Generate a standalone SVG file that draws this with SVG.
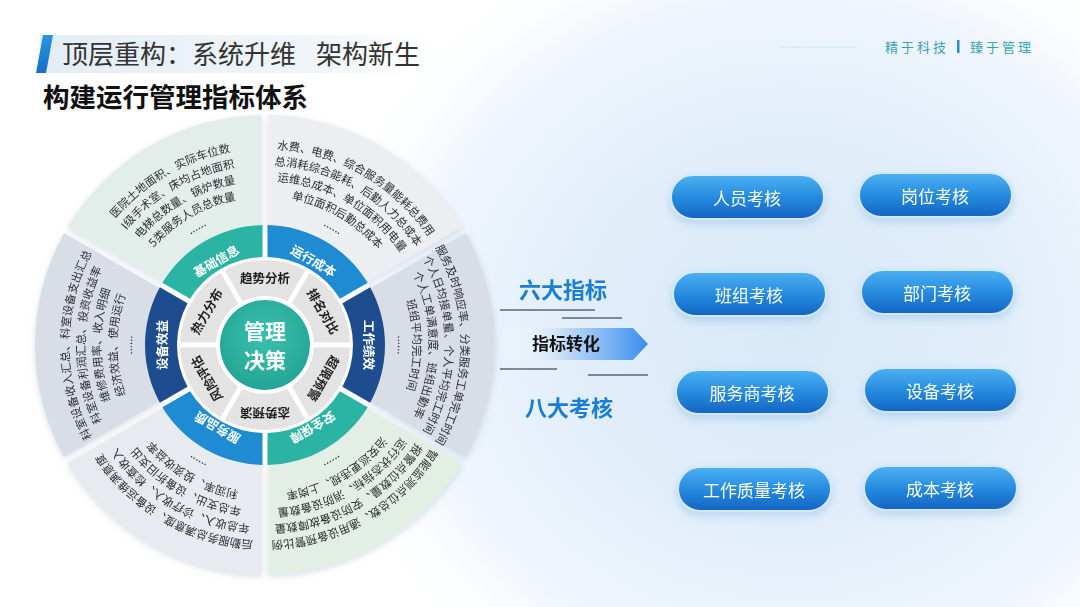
<svg xmlns="http://www.w3.org/2000/svg" width="1080" height="607" viewBox="0 0 1080 607">
<style>
.f{font-family:"Noto Sans CJK SC","Noto Sans",sans-serif}
.st{font-family:"Noto Sans CJK SC",sans-serif;font-size:11.3px;fill:#2a2d31;text-anchor:middle}
.bl{font-family:"Noto Sans CJK SC",sans-serif;font-size:12.5px;font-weight:bold;fill:#ffffff;text-anchor:middle;dominant-baseline:central}
.rl{font-family:"Noto Sans CJK SC",sans-serif;font-size:12.5px;font-weight:bold;fill:#1e1e1e;text-anchor:middle;dominant-baseline:central}
.pt{font-family:"Noto Sans CJK SC",sans-serif;font-size:17px;fill:#ffffff;text-anchor:middle;dominant-baseline:central}
.ln{stroke:#5b6577;stroke-width:1.5;fill:none}
</style>
<defs>
<radialGradient id="bgR" gradientUnits="userSpaceOnUse" cx="790" cy="330" r="500" gradientTransform="translate(790 330) scale(1 0.9) translate(-790 -330)">
<stop offset="0" stop-color="#d8e9f8"/>
<stop offset="0.45" stop-color="#e2eefa"/>
<stop offset="0.75" stop-color="#f0f6fc"/>
<stop offset="1" stop-color="#ffffff" stop-opacity="0"/>
</radialGradient>
<linearGradient id="titleBg" x1="0" y1="0" x2="1" y2="0">
<stop offset="0" stop-color="#e3edf6"/>
<stop offset="0.7" stop-color="#f1f6fa"/>
<stop offset="1" stop-color="#ffffff" stop-opacity="0"/>
</linearGradient>
<linearGradient id="barG" x1="0" y1="0" x2="0" y2="1">
<stop offset="0" stop-color="#2a95e0"/>
<stop offset="1" stop-color="#1470c4"/>
</linearGradient>
<linearGradient id="arrowG" x1="0" y1="0" x2="1" y2="0">
<stop offset="0" stop-color="#ffffff" stop-opacity="0"/>
<stop offset="0.35" stop-color="#d7e8f8"/>
<stop offset="1" stop-color="#3b8ef0"/>
</linearGradient>
<linearGradient id="pillG" x1="0" y1="0" x2="0" y2="1">
<stop offset="0" stop-color="#4cb1f3"/>
<stop offset="0.55" stop-color="#2488dd"/>
<stop offset="1" stop-color="#1463c2"/>
</linearGradient>
<radialGradient id="tealG" cx="0.5" cy="0.4" r="0.6">
<stop offset="0" stop-color="#3cc0ae"/>
<stop offset="1" stop-color="#22a596"/>
</radialGradient>
<filter id="sh" x="-20%" y="-20%" width="140%" height="140%">
<feDropShadow dx="0" dy="2" stdDeviation="3" flood-color="#8ea6c0" flood-opacity="0.35"/>
</filter>
<filter id="psh" x="-20%" y="-30%" width="140%" height="170%">
<feDropShadow dx="0" dy="4" stdDeviation="4" flood-color="#6ea5dc" flood-opacity="0.35"/>
</filter>
<path id="sec" d="M153.02,144.10 A230,230 0 0 1 376.98,144.10 L320.94,241.10 A118,118 0 0 0 209.06,241.10 Z"/>
<path id="band" d="M207.17,239.86 A120,120 0 0 1 322.83,239.86 L306.81,267.57 A88,88 0 0 0 223.19,267.57 Z"/>
<path id="ring" d="M224.68,270.17 A85,85 0 0 1 305.32,270.17 L287.31,301.37 A49,49 0 0 0 242.69,301.37 Z"/>
<path id="a196" d="M139.01,194.86 A196,196 0 0 1 390.99,194.86"/>
<path id="a180" d="M149.30,207.12 A180,180 0 0 1 380.70,207.12"/>
<path id="a164" d="M159.58,219.37 A164,164 0 0 1 370.42,219.37"/>
<path id="a148" d="M169.87,231.63 A148,148 0 0 1 360.13,231.63"/>
<path id="a133" d="M179.51,243.12 A133,133 0 0 1 350.49,243.12"/>
</defs>

<rect width="1080" height="607" fill="#ffffff"/>
<rect width="1080" height="607" fill="url(#bgR)"/>

<g id="header">
<rect x="40" y="35" width="420" height="38" fill="url(#titleBg)"/>
<polygon points="43,35 53,35 46,73 36,73" fill="url(#barG)"/>
<text class="f" x="62" y="64" font-size="26" fill="#333333">顶层重构：系统升维</text>
<text class="f" x="316" y="64" font-size="26" fill="#333333">架构新生</text>
<text class="f" x="43" y="107" font-size="26.5" font-weight="bold" fill="#111111">构建运行管理指标体系</text>
<line x1="780" y1="47" x2="856" y2="47" stroke="#cfe3f1" stroke-width="1"/>
<text class="f" x="885" y="52" font-size="13" letter-spacing="3" fill="#3aa3b3">精于科技</text>
<rect x="957" y="40" width="2.5" height="13" fill="#2a8fd8"/>
<text class="f" x="970" y="52" font-size="13" letter-spacing="3" fill="#3aa3b3">臻于管理</text>
</g>

<g id="wheel">
<g id="sectors" filter="url(#sh)">
<use href="#sec" fill="#e3eeea" transform="rotate(-30 265 345)"/>
<use href="#sec" fill="#eceef1" transform="rotate(30 265 345)"/>
<use href="#sec" fill="#d9dee6" transform="rotate(90 265 345)"/>
<use href="#sec" fill="#e3eee5" transform="rotate(150 265 345)"/>
<use href="#sec" fill="#e7eaee" transform="rotate(210 265 345)"/>
<use href="#sec" fill="#d9dee6" transform="rotate(270 265 345)"/>
</g>
<circle cx="265" cy="345" r="87" fill="#ffffff"/>
<g id="bands">
<use href="#band" fill="#2bb3a3" transform="rotate(-30 265 345)"/>
<use href="#band" fill="#1e8bd2" transform="rotate(30 265 345)"/>
<use href="#band" fill="#1d4d8e" transform="rotate(90 265 345)"/>
<use href="#band" fill="#2bb3a3" transform="rotate(150 265 345)"/>
<use href="#band" fill="#1e8bd2" transform="rotate(210 265 345)"/>
<use href="#band" fill="#1d4d8e" transform="rotate(270 265 345)"/>
</g>
<g id="ringSegs" fill="#e3e3e3">
<use href="#ring"/>
<use href="#ring" transform="rotate(60 265 345)"/>
<use href="#ring" transform="rotate(120 265 345)"/>
<use href="#ring" transform="rotate(180 265 345)"/>
<use href="#ring" transform="rotate(240 265 345)"/>
<use href="#ring" transform="rotate(300 265 345)"/>
</g>

<g id="center">
<circle cx="265" cy="345" r="45" fill="url(#tealG)"/>
<text class="f" x="265" y="339" font-size="21" font-weight="bold" fill="#ffffff" text-anchor="middle">管理</text>
<text class="f" x="265" y="368" font-size="21" font-weight="bold" fill="#ffffff" text-anchor="middle">决策</text>
</g>

<g id="ringLabels">
<text class="rl" x="265" y="277">趋势分析</text>
<text class="rl" x="265" y="277" transform="rotate(60 265 345)">排名对比</text>
<text class="rl" x="265" y="277" transform="rotate(120 265 345)">超限预警</text>
<text class="rl" x="265" y="277" transform="rotate(180 265 345)">态势预演</text>
<text class="rl" x="265" y="277" transform="rotate(240 265 345)">风险评估</text>
<text class="rl" x="265" y="277" transform="rotate(300 265 345)">热力分布</text>
</g>

<g id="node-jichu">
<text class="bl" x="265" y="247" transform="rotate(-30 265 345)">基础信息</text>
<g transform="rotate(-30 265 345)">
<text class="st"><textPath href="#a196" startOffset="50%">医院土地面积、实际车位数</textPath></text>
<text class="st"><textPath href="#a180" startOffset="50%">I级手术室、床均占地面积</textPath></text>
<text class="st"><textPath href="#a164" startOffset="50%">电梯总数量、锅炉数量</textPath></text>
<text class="st"><textPath href="#a148" startOffset="50%">5类服务人员总数量</textPath></text>
<text class="st"><textPath href="#a133" startOffset="50%">......</textPath></text>
</g>
</g>

<g id="node-yunxing">
<text class="bl" x="265" y="247" transform="rotate(30 265 345)">运行成本</text>
<g transform="rotate(30 265 345)">
<text class="st"><textPath href="#a196" startOffset="50%">水费、电费、综合服务量能耗总费用</textPath></text>
<text class="st"><textPath href="#a180" startOffset="50%">总消耗综合能耗、后勤人力总成本</textPath></text>
<text class="st"><textPath href="#a164" startOffset="50%">运维总成本、单位面积用电量</textPath></text>
<text class="st"><textPath href="#a148" startOffset="50%">单位面积后勤总成本</textPath></text>
<text class="st"><textPath href="#a133" startOffset="50%">......</textPath></text>
</g>
</g>

<g id="node-gongzuo">
<text class="bl" x="265" y="241" transform="rotate(90 265 345)">工作绩效</text>
<g transform="rotate(90 265 345)">
<text class="st"><textPath href="#a196" startOffset="50%">服务及时响应率、分类服务工单完工时间</textPath></text>
<text class="st"><textPath href="#a180" startOffset="50%">个人日均接单量、个人平均完工时间</textPath></text>
<text class="st"><textPath href="#a164" startOffset="50%">个人工单满意度、班组出勤率</textPath></text>
<text class="st"><textPath href="#a148" startOffset="50%">班组平均完工时间</textPath></text>
<text class="st"><textPath href="#a133" startOffset="50%">......</textPath></text>
</g>
</g>

<g id="node-anquan">
<text class="bl" x="265" y="249" transform="rotate(150 265 345)">安全保障</text>
<g transform="rotate(150 265 345)">
<text class="st"><textPath href="#a196" startOffset="50%">智能监测点位总数、通用设备预警比例</textPath></text>
<text class="st"><textPath href="#a180" startOffset="50%">报警点位数量、安防设备故障数量</textPath></text>
<text class="st"><textPath href="#a164" startOffset="50%">运行状态指标、消防设备数量</textPath></text>
<text class="st"><textPath href="#a148" startOffset="50%">治安巡更违规、上岗率</textPath></text>
<text class="st"><textPath href="#a133" startOffset="50%">......</textPath></text>
</g>
</g>

<g id="node-fuwu">
<text class="bl" x="265" y="249" transform="rotate(210 265 345)">服务品质</text>
<g transform="rotate(210 265 345)">
<text class="st"><textPath href="#a196" startOffset="50%">后勤服务总满意度、设备运维满意度</textPath></text>
<text class="st"><textPath href="#a180" startOffset="50%">年总收入、诊疗收入、检查收入</textPath></text>
<text class="st"><textPath href="#a164" startOffset="50%">年总支出、设备折旧支出</textPath></text>
<text class="st"><textPath href="#a148" startOffset="50%">利润率、投资收益率</textPath></text>
<text class="st"><textPath href="#a133" startOffset="50%">......</textPath></text>
</g>
</g>

<g id="node-shebei">
<text class="bl" x="265" y="241" transform="rotate(270 265 345)">设备效益</text>
<g transform="rotate(270 265 345)">
<text class="st"><textPath href="#a196" startOffset="50%">科室设备收入汇总、科室设备支出汇总</textPath></text>
<text class="st"><textPath href="#a180" startOffset="50%">科室设备利润汇总、投资收益率</textPath></text>
<text class="st"><textPath href="#a164" startOffset="50%">维修费用率、收入明细</textPath></text>
<text class="st"><textPath href="#a148" startOffset="50%">经济效益、使用运行</textPath></text>
<text class="st"><textPath href="#a133" startOffset="50%">......</textPath></text>
</g>
</g>
</g>

<g id="connectors">
<line class="ln" x1="500" y1="310" x2="595" y2="310"/>
<line class="ln" x1="562" y1="318" x2="622" y2="318"/>
<polygon points="500,328 633,328 648,344 633,360 500,360" fill="url(#arrowG)"/>
<line class="ln" x1="500" y1="369" x2="557" y2="369"/>
<line class="ln" x1="588" y1="375" x2="648" y2="375"/>
</g>

<g id="mid-labels">
<text class="f" x="563" y="298" font-size="22" font-weight="bold" fill="#1a7fd4" text-anchor="middle">六大指标</text>
<text class="f" x="566" y="350" font-size="17" font-weight="bold" fill="#111111" text-anchor="middle">指标转化</text>
<text class="f" x="569" y="416" font-size="22" font-weight="bold" fill="#1a7fd4" text-anchor="middle">八大考核</text>
</g>

<g id="pills" filter="url(#psh)">
<g id="p1"><rect x="671" y="175" width="153" height="44" rx="22" fill="url(#pillG)" stroke="#d3e8fa" stroke-width="2"/><text class="pt" x="747" y="197">人员考核</text></g>
<g id="p2"><rect x="859" y="173" width="153" height="44" rx="22" fill="url(#pillG)" stroke="#d3e8fa" stroke-width="2"/><text class="pt" x="935" y="195">岗位考核</text></g>
<g id="p3"><rect x="673" y="272" width="153" height="44" rx="22" fill="url(#pillG)" stroke="#d3e8fa" stroke-width="2"/><text class="pt" x="749" y="294">班组考核</text></g>
<g id="p4"><rect x="861" y="270" width="153" height="44" rx="22" fill="url(#pillG)" stroke="#d3e8fa" stroke-width="2"/><text class="pt" x="937" y="292">部门考核</text></g>
<g id="p5"><rect x="676" y="370" width="153" height="44" rx="22" fill="url(#pillG)" stroke="#d3e8fa" stroke-width="2"/><text class="pt" x="752" y="392">服务商考核</text></g>
<g id="p6"><rect x="864" y="368" width="153" height="44" rx="22" fill="url(#pillG)" stroke="#d3e8fa" stroke-width="2"/><text class="pt" x="940" y="390">设备考核</text></g>
<g id="p7"><rect x="678" y="467" width="153" height="44" rx="22" fill="url(#pillG)" stroke="#d3e8fa" stroke-width="2"/><text class="pt" x="754" y="489">工作质量考核</text></g>
<g id="p8"><rect x="864" y="466" width="153" height="44" rx="22" fill="url(#pillG)" stroke="#d3e8fa" stroke-width="2"/><text class="pt" x="940" y="488">成本考核</text></g>
</g>
</svg>
